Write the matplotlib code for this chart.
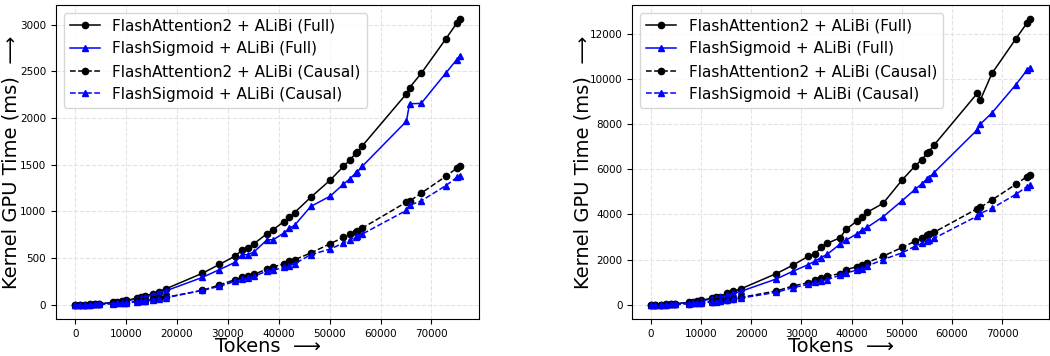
import matplotlib
matplotlib.use("Agg")
import matplotlib.pyplot as plt

# token counts (shared by all series)
tokens = [0, 850, 1960, 2940, 3920, 4760, 7500, 8300, 9150, 9940, 12100, 12900, 13700,
          15200, 16400, 17900, 25000, 28300, 31400, 32800, 33900, 35100, 37700, 38900,
          41000, 42100, 43100, 46300, 50100, 52700, 54000, 55100, 55400, 56400, 65100,
          65700, 68000, 72800, 75000, 75600]

# left panel (ms)
left_fa_full = [0, 1, 2, 4, 6, 9, 26, 33, 40, 46, 70, 82, 90, 120, 140, 172,
                337, 431, 520, 585, 610, 653, 761, 804, 890, 940, 987, 1152, 1335,
                1482, 1551, 1622, 1633, 1701, 2261, 2326, 2480, 2846, 3019, 3060]
left_fs_full = [0, 1, 2, 3, 5, 8, 22, 28, 34, 40, 62, 72, 80, 108, 128, 150,
                293, 375, 454, 536, 536, 564, 696, 696, 768, 821, 850, 1054, 1163,
                1292, 1350, 1411, 1420, 1483, 1967, 2154, 2158, 2481, 2628, 2667]
left_fa_causal = [0, 0.5, 1, 2, 4, 5, 13, 16, 20, 23, 35, 40, 45, 58, 68, 80,
                  154, 211, 268, 296, 311, 325, 382, 404, 439, 464, 482, 554, 654,
                  721, 757, 780, 786, 821, 1100, 1110, 1196, 1375, 1464, 1482]
left_fs_causal = [0, 0.5, 1, 2, 3, 5, 12, 15, 18, 21, 32, 37, 42, 54, 63, 75,
                  154, 196, 250, 275, 286, 304, 361, 368, 400, 418, 439, 536, 596,
                  661, 696, 725, 732, 757, 1011, 1065, 1113, 1275, 1364, 1375]

# right panel (ms)
right_fa_full = [0, 2, 7, 15, 27, 40, 105, 130, 160, 190, 290, 330, 360, 500, 590, 700,
                 1377, 1748, 2148, 2266, 2533, 2710, 2962, 3333, 3688, 3880, 4088,
                 4488, 5524, 6146, 6413, 6709, 6768, 7050, 9360, 9064, 10234, 11774,
                 12470, 12633]
right_fs_full = [0, 2, 6, 13, 23, 35, 93, 115, 140, 165, 250, 285, 320, 420, 500, 590,
                 1140, 1481, 1777, 1940, 2088, 2222, 2680, 2858, 3125, 3302, 3422,
                 3895, 4606, 5110, 5346, 5583, 5620, 5835, 7746, 7997, 8486, 9745,
                 10382, 10485]
right_fa_causal = [0, 1, 4, 8, 14, 20, 52, 64, 78, 90, 137, 155, 175, 230, 270, 320,
                   607, 829, 977, 1081, 1185, 1259, 1377, 1555, 1673, 1762, 1866,
                   2148, 2533, 2814, 2932, 3081, 3110, 3199, 4251, 4310, 4636, 5332,
                   5672, 5746]
right_fs_causal = [0, 1, 3, 7, 12, 18, 47, 58, 70, 82, 125, 140, 160, 210, 245, 290,
                   548, 755, 903, 1007, 1051, 1111, 1303, 1407, 1525, 1600, 1703,
                   2000, 2296, 2592, 2710, 2829, 2850, 2932, 3925, 4043, 4265, 4887,
                   5228, 5302]

labels = ['FlashAttention2 + ALiBi (Full)', 'FlashSigmoid + ALiBi (Full)',
          'FlashAttention2 + ALiBi (Causal)', 'FlashSigmoid + ALiBi (Causal)']

fig = plt.figure(figsize=(10.5, 3.56), dpi=100)
ax1 = fig.add_axes([0.0533, 0.104, 0.403, 0.882])
ax2 = fig.add_axes([0.602, 0.104, 0.397, 0.882])

panels = [(ax1, left_fa_full, left_fs_full, left_fa_causal, left_fs_causal, -0.083),
          (ax2, right_fa_full, right_fs_full, right_fa_causal, right_fs_causal, -0.096)]

for ax, fa_f, fs_f, fa_c, fs_c, ylx in panels:
    ax.plot(tokens, fa_f, color='black', marker='o', markersize=4.5, linestyle='-', linewidth=1.1, label=labels[0])
    ax.plot(tokens, fs_f, color='blue', marker='^', markersize=4.5, linestyle='-', linewidth=1.1, label=labels[1])
    ax.plot(tokens, fa_c, color='black', marker='o', markersize=4.5, linestyle='--', linewidth=1.1, label=labels[2])
    ax.plot(tokens, fs_c, color='blue', marker='^', markersize=4.5, linestyle='--', linewidth=1.1, label=labels[3])
    ax.grid(True, linestyle='--', color='#e3e3e3', linewidth=0.8)
    ax.tick_params(labelsize=7.5)
    ax.set_xlabel('Tokens  \u27f6', fontsize=14)
    ax.set_ylabel('Kernel GPU Time (ms)  \u27f6', fontsize=14)
    ax.xaxis.set_label_coords(0.5, -0.058)
    ax.yaxis.set_label_coords(ylx, 0.5)
    ax.legend(loc='upper left', fontsize=11, borderaxespad=0.5)

ax1.set_xticks(range(0, 70001, 10000))
ax2.set_xticks(range(0, 70001, 10000))

fig.savefig('out.png', dpi=100)
